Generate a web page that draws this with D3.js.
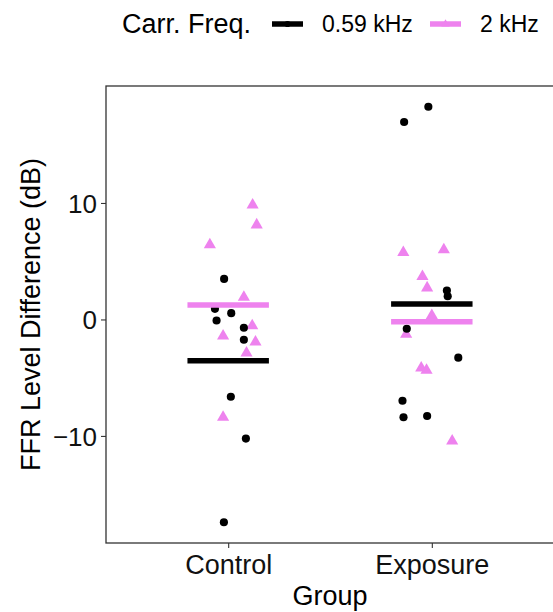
<!DOCTYPE html>
<html lang="en">
<head>
<meta charset="UTF-8">
<title>FFR level difference</title>
<script src="https://d3js.org/d3.v7.min.js"></script>
<style>
body { margin: 0; background: #fff; }
svg { display: block; font-family: "Liberation Sans", Arial, sans-serif; }
.axis path { display: none; }
.axis line { stroke: #333; stroke-width: 1.1; }
.axis text { fill: #111; font-family: "Liberation Sans", Arial, sans-serif; }
.x.axis text { font-size: 27px; }
.y.axis text { font-size: 26px; }
</style>
</head>
<body>
<script>
// groups and carrier frequencies
var groups = ['Control', 'Exposure'];
var freqs = ['0.59 kHz', '2 kHz'];
var freqColors = ['#000000', '#EE82EE'];

// FFR level difference (dB)
var controlLow  = [3.48, 0.91, 0.54, -0.09, -0.71, -1.74, -6.64, -10.23, -17.41];
var controlHigh = [9.83, 8.12, 6.41, 1.90, -0.54, -1.43, -1.94, -2.88, -8.40];
var exposureLow  = [18.26, 16.95, 2.48, 1.99, -0.80, -3.28, -6.98, -8.40, -8.29];
var exposureHigh = [5.75, 5.98, 3.68, 2.71, 0.34, -1.28, -4.16, -4.36, -10.43];

// horizontal jitter (in group units) of each point
var controlLowJit  = [-0.02, -0.065, 0.015, -0.057, 0.077, 0.077, 0.013, 0.087, -0.021];
var controlHighJit = [0.12, 0.14, -0.09, 0.077, 0.118, -0.025, 0.134, 0.09, -0.025];
var exposureLowJit  = [-0.017, -0.136, 0.074, 0.078, -0.123, 0.13, -0.144, -0.139, -0.023];
var exposureHighJit = [-0.14, 0.059, -0.046, -0.023, 0, -0.126, -0.052, -0.026, 0.10];

var yTicks = [-10, 0, 10];

var series = [
  {group: 'Control', f: 0, vals: controlLow, jit: controlLowJit},
  {group: 'Control', f: 1, vals: controlHigh, jit: controlHighJit},
  {group: 'Exposure', f: 0, vals: exposureLow, jit: exposureLowJit},
  {group: 'Exposure', f: 1, vals: exposureHigh, jit: exposureHighJit}
];

var width = 553, height = 612;
var panel = {left: 106, top: 86, right: 554, bottom: 543};

var svg = d3.select('body').append('svg')
  .attr('width', width)
  .attr('height', height);

// discrete x: groups at 1,2 with 0.6 expansion each side
var xScale = d3.scaleLinear()
  .domain([0.4, 2.6])
  .range([panel.left, panel.right]);

var allVals = d3.merge(series.map(function(s){ return s.vals; }));
var ext = d3.extent(allVals);
var pad = (ext[1] - ext[0]) * 0.05;
var yScale = d3.scaleLinear()
  .domain([ext[0] - pad, ext[1] + pad])
  .range([panel.bottom, panel.top]);

function gx(g){ return groups.indexOf(g) + 1; }

// points: flatten
var points = [];
series.forEach(function(s){
  s.vals.forEach(function(v, i){
    points.push({group: s.group, f: s.f, v: v, j: s.jit[i]});
  });
});
// draw triangles first, dots over them
points.sort(function(a, b){ return b.f - a.f; });

var tri = d3.symbol().type(d3.symbolTriangle).size(64);
var dot = d3.symbol().type(d3.symbolCircle).size(52);

var plot = svg.append('g');

plot.selectAll('.pt')
  .data(points)
  .enter()
  .append('path')
  .attr('class', 'pt')
  .attr('transform', function(d){
    return 'translate(' + xScale(gx(d.group) + d.j) + ',' + yScale(d.v) + ')';
  })
  .attr('d', function(d){ return d.f === 0 ? dot() : tri(); })
  .attr('fill', function(d){ return freqColors[d.f]; });

// group means
plot.selectAll('.mean')
  .data(series)
  .enter()
  .append('line')
  .attr('class', 'mean')
  .attr('x1', function(d){ return xScale(gx(d.group) - 0.2); })
  .attr('x2', function(d){ return xScale(gx(d.group) + 0.2); })
  .attr('y1', function(d){ return yScale(d3.mean(d.vals)); })
  .attr('y2', function(d){ return yScale(d3.mean(d.vals)); })
  .attr('stroke', function(d){ return freqColors[d.f]; })
  .attr('stroke-width', 5.5);

// panel border
svg.append('rect')
  .attr('x', panel.left)
  .attr('y', panel.top)
  .attr('width', panel.right - panel.left)
  .attr('height', panel.bottom - panel.top)
  .attr('fill', 'none')
  .attr('stroke', '#333')
  .attr('stroke-width', 1.3);

// axes
var xAxis = d3.axisBottom(xScale)
  .tickValues([1, 2])
  .tickFormat(function(d){ return groups[d - 1]; })
  .tickSize(5)
  .tickPadding(7);

var yAxis = d3.axisLeft(yScale)
  .tickValues(yTicks)
  .tickFormat(function(d){ return d < 0 ? '\u2212' + Math.abs(d) : d; })
  .tickSize(5)
  .tickPadding(4);

svg.append('g')
  .attr('class', 'x axis')
  .attr('transform', 'translate(0,' + panel.bottom + ')')
  .call(xAxis);

svg.append('g')
  .attr('class', 'y axis')
  .attr('transform', 'translate(' + panel.left + ',0)')
  .call(yAxis)
  .selectAll('text')
  .attr('dy', '0.36em');

// axis titles
svg.append('text')
  .attr('x', (xScale(1) + xScale(2)) / 2)
  .attr('y', 605)
  .attr('text-anchor', 'middle')
  .attr('font-size', 27)
  .text('Group');

svg.append('text')
  .attr('transform', 'translate(40,' + (panel.top + panel.bottom) / 2 + ') rotate(-90)')
  .attr('text-anchor', 'middle')
  .attr('font-size', 27)
  .text('FFR Level Difference (dB)');

// legend
var legend = svg.append('g');
legend.append('text')
  .attr('x', 122)
  .attr('y', 33)
  .attr('font-size', 27)
  .text('Carr. Freq.');

var keyX = [272, 430];
var labX = [322, 480];
freqs.forEach(function(f, i){
  legend.append('line')
    .attr('x1', keyX[i]).attr('x2', keyX[i] + 31)
    .attr('y1', 24).attr('y2', 24)
    .attr('stroke', freqColors[i])
    .attr('stroke-width', 5.5);
  legend.append('path')
    .attr('transform', 'translate(' + (keyX[i] + 15.5) + ',24)')
    .attr('d', i === 0 ? d3.symbol().type(d3.symbolCircle).size(30)() : d3.symbol().type(d3.symbolTriangle).size(30)())
    .attr('fill', freqColors[i]);
  legend.append('text')
    .attr('x', labX[i])
    .attr('y', 32)
    .attr('font-size', 23)
    .text(f);
});
</script>
</body>
</html>
